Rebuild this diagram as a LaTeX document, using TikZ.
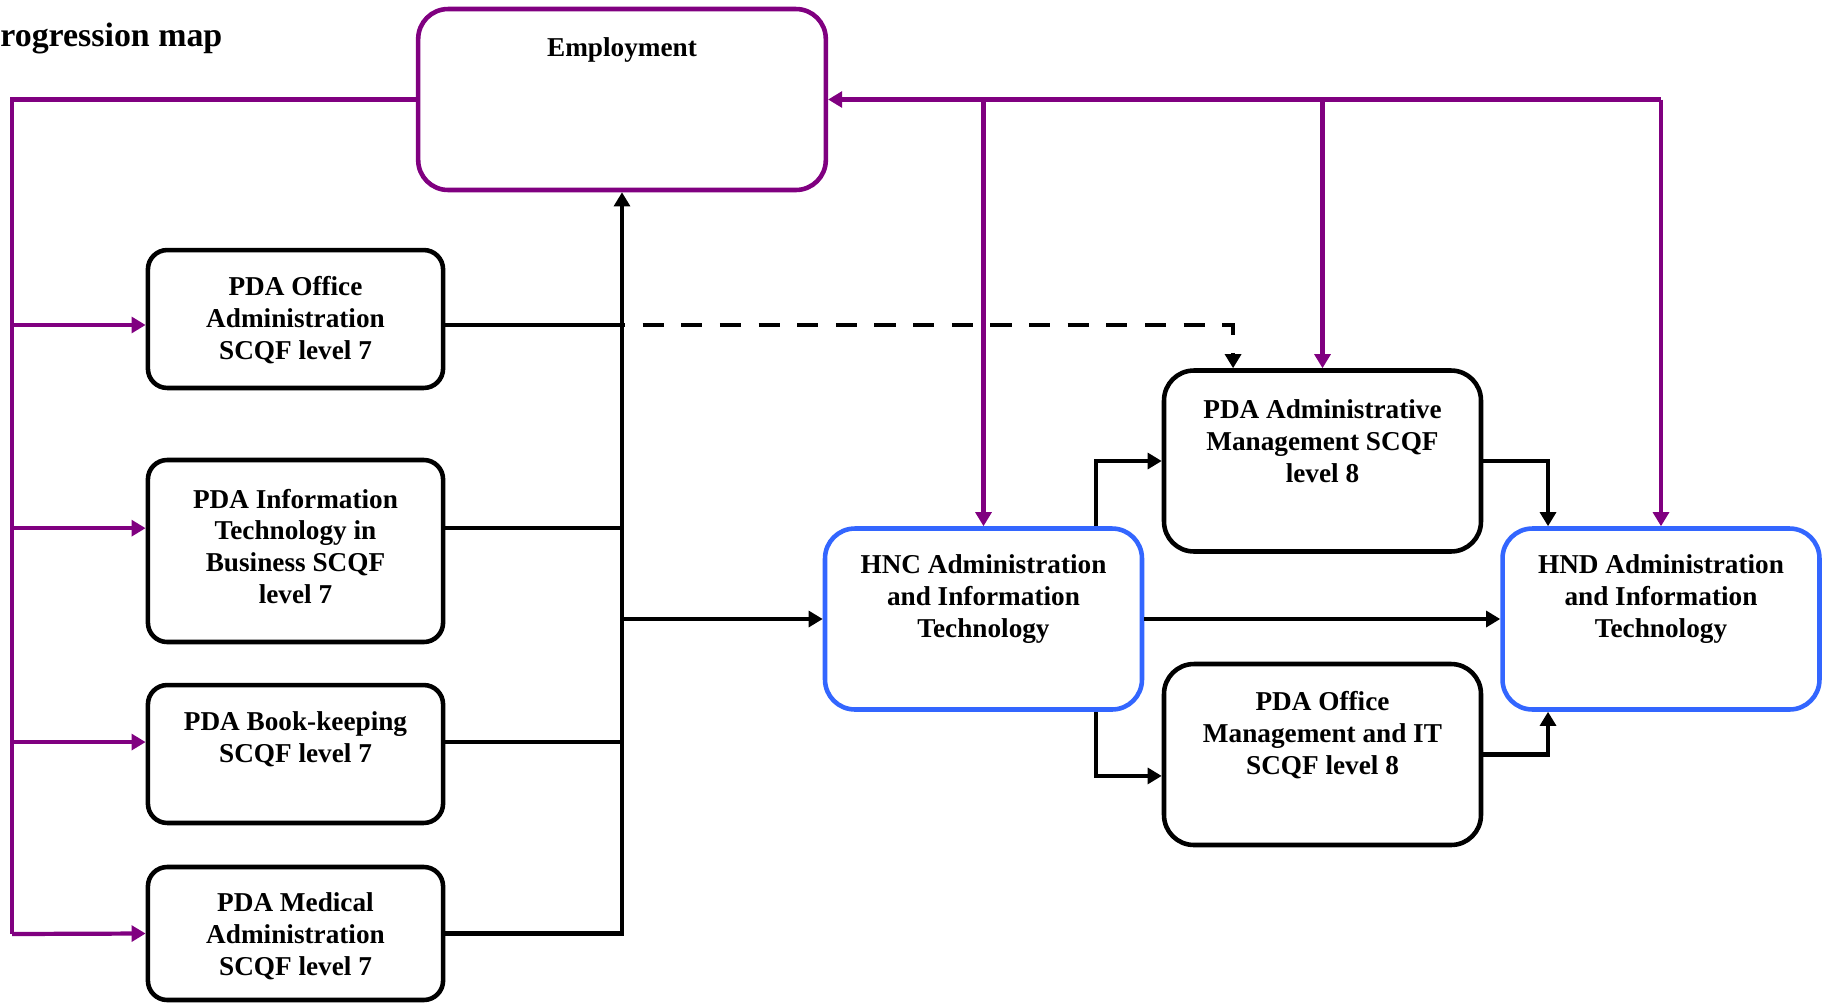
\documentclass[tikz,border=0pt]{standalone}
\usepackage{fontspec}
\setmainfont{Liberation Serif}
\usetikzlibrary{positioning, arrows.meta}

\definecolor{mappurple}{RGB}{128,0,128}
\definecolor{mapblue}{RGB}{51,102,255}

\tikzset{
  box/.style={draw=black, line width=2.6pt, rounded corners=11pt, minimum width=168pt, inner sep=0pt},
  bigbox/.style={box, rounded corners=17pt, minimum width=180.4pt, minimum height=103pt},
  hbox/.style={bigbox, draw=mapblue},
  txt/.style={font=\bfseries\fontsize{15.5}{18.2}\selectfont, align=center, inner sep=0pt},
  conn/.style={line width=2.5pt, black},
  pline/.style={line width=2.4pt, mappurple}
}

\begin{document}
\begin{tikzpicture}[x=0.02cm, y=-0.02cm, >={Triangle[length=8pt,width=9pt]}]
        \useasboundingbox (0,0) rectangle (1827,1002);

        % Titulo
        \node[anchor=west, inner sep=0pt, font=\bfseries\fontsize{19.3}{23}\selectfont] (title) at (0,38) {rogression map};

        % Cajas
        \node[bigbox, draw=mappurple, minimum width=232pt] (employ) at (622,99.5) {};
        \node[box, minimum height=78.5pt] (office) at (295.5,319) {};
        \node[box, minimum height=103.6pt] (itbus) at (295.5,551) {};
        \node[box, minimum height=78.5pt] (book) at (295.5,754) {};
        \node[box, minimum height=75.7pt] (medical) at (295.5,933.5) {};
        \node[hbox] (hnc) at (983.5,619) {};
        \node[hbox] (hnd) at (1661,619) {};
        \node[bigbox] (admin) at (1322.5,461) {};
        \node[bigbox] (offmgmt) at (1322.5,754.5) {};

        % Textos
        \node[txt] (employtxt) at (622,49.5) {Employment};
        \node[txt] (officetxt) at (295.5,320.5) {PDA Office\\Administration\\SCQF level 7};
        \node[txt] (itbustxt) at (295.5,546.5) {PDA Information\\Technology in\\Business SCQF\\level 7};
        \node[txt] (booktxt) at (295.5,739.5) {PDA Book-keeping\\SCQF level 7};
        \node[txt] (medicaltxt) at (295.5,936.5) {PDA Medical\\Administration\\SCQF level 7};
        \node[txt] (hnctxt) at (983.5,599.5) {HNC Administration\\and Information\\Technology};
        \node[txt] (hndtxt) at (1661,599.5) {HND Administration\\and Information\\Technology};
        \node[txt] (admintxt) at (1322.5,441.5) {PDA Administrative\\Management SCQF\\level 8};
        \node[txt] (offmgmttxt) at (1322.5,735.5) {PDA Office\\Management and IT\\SCQF level 8};

        % Puntos de union
        \coordinate (officeio) at ([yshift=-3.4pt]office.east);
        \coordinate (itbusio) at ([yshift=13pt]itbus.east);
        \coordinate (bookio) at ([yshift=6.8pt]book.east);
        \coordinate (ltop) at (12,99.5);
        \coordinate (lbot) at (12,934);
        \coordinate (dashend) at ([xshift=-50.9pt]admin.north);
        \coordinate (hncup) at ([xshift=64pt]hnc.north);
        \coordinate (hncdown) at ([xshift=64pt]hnc.south);
        \coordinate (offmgmtin) at ([yshift=-12.2pt]offmgmt.west);
        \coordinate (hndtopin) at ([xshift=-64.3pt]hnd.north);
        \coordinate (hndbotin) at ([xshift=-64.3pt]hnd.south);

        % Lineas moradas
        \draw[pline] (employ.west) -- (ltop) -- (lbot);
        \draw[pline, ->] (ltop |- officeio) -- ([yshift=-3.4pt]office.west);
        \draw[pline, ->] (ltop |- itbusio) -- ([yshift=13pt]itbus.west);
        \draw[pline, ->] (ltop |- bookio) -- ([yshift=6.8pt]book.west);
        \draw[pline, ->] (lbot) -- (medical.west);
        \draw[pline, ->] (hnd.north |- employ.east) -- (employ.east);
        \draw[pline, ->] (hnc.north |- employ.east) -- (hnc.north);
        \draw[pline, ->] (admin.north |- employ.east) -- (admin.north);
        \draw[pline, ->] (hnd.north |- employ.east) -- (hnd.north);

        % Lineas negras
        \draw[conn] (officeio) -- (employ.south |- officeio);
        \draw[conn] (itbusio) -- (employ.south |- itbusio);
        \draw[conn] (bookio) -- (employ.south |- bookio);
        \draw[conn, ->] (medical.east) -| (employ.south);
        \draw[conn, dash pattern=on 12pt off 10pt, dash phase=10.3pt, ->] (employ.south |- officeio) -| (dashend);
        \draw[conn, ->] (employ.south |- hnc.west) -- (hnc.west);
        \draw[conn, ->] (hnc.east) -- (hnd.west);
        \draw[conn, ->] (hncup) |- (admin.west);
        \draw[conn, ->] (hncdown) |- (offmgmtin);
        \draw[conn, ->] (admin.east) -| (hndtopin);
        \draw[conn, ->] (offmgmt.east) -| (hndbotin);
    \end{tikzpicture}
\end{document}
